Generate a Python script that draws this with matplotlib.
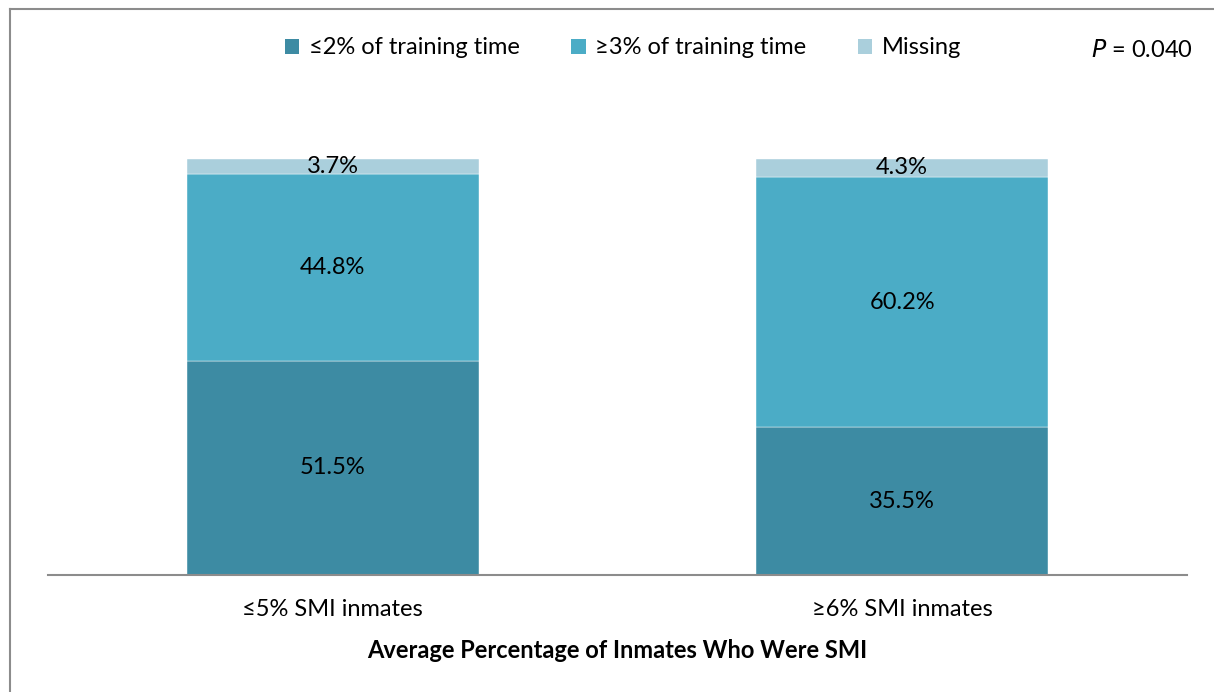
from matplotlib import pyplot as plt
from matplotlib.patches import Patch
from matplotlib.lines import Line2D
import numpy as np

# chart data
categories = ['≤5% SMI inmates', '≥6% SMI inmates']
series_names = ['≤2% of training time', '≥3% of training time', 'Missing']
low_training = [51.5, 35.5]
high_training = [44.8, 60.2]
missing = [3.7, 4.3]
p_text = '= 0.040'

colors = ['#3D8BA3', '#4BACC6', '#AACFDC']
font = ['Lato', 'DejaVu Sans']
plt.rcParams['font.family'] = font
fs = 17

fig = plt.figure(figsize=(12.14, 6.92), dpi=100)
W, H = 1214, 692
# plot area in pixels: left 48, right 1187, top 159, bottom 575
ax = fig.add_axes([48 / W, 1 - 575 / H, (1187 - 48) / W, (575 - 159) / H])

x = np.arange(len(categories))
bottom = np.zeros(len(categories))
for vals, name, col in zip([low_training, high_training, missing], series_names, colors):
    ax.bar(x, vals, width=0.512, bottom=bottom, color=col, label=name,
           edgecolor='white', linewidth=0.3)
    for xi, b, v in zip(x, bottom, vals):
        ax.text(xi, b + v / 2, '{:.1f}%'.format(v), ha='center', va='center',
                fontsize=fs, color='black')
    bottom = bottom + np.array(vals)

ax.set_xlim(-0.5, 1.5)
ax.set_ylim(0, 100)
for s in ['top', 'right', 'left']:
    ax.spines[s].set_visible(False)
ax.spines['bottom'].set_color('#8C8C8C')
ax.spines['bottom'].set_linewidth(1.5)
ax.set_yticks([])
ax.set_xticks(x)
ax.set_xticklabels(categories, fontsize=fs)
ax.tick_params(axis='x', length=0, pad=17)
ax.set_xlabel('Average Percentage of Inmates Who Were SMI', fontsize=fs,
              fontweight='bold', labelpad=14)

handles = [Patch(facecolor=c) for c in colors]
fig.legend(handles, series_names, loc='center', bbox_to_anchor=(623 / W, 1 - 48 / H),
           ncol=3, frameon=False, fontsize=fs, handlelength=0.6, handleheight=0.6,
           handletextpad=0.4, columnspacing=2.2)

fig.text(1193 / W, 1 - 50 / H, '$P$ ' + p_text, ha='right', va='center', fontsize=fs)

# outer chart frame (top and left edges visible)
fig.add_artist(Line2D([10 / W, 1], [1 - 9 / H, 1 - 9 / H], color='#8C8C8C', lw=1.5))
fig.add_artist(Line2D([10 / W, 10 / W], [0, 1 - 9 / H], color='#8C8C8C', lw=1.5))

fig.savefig('out.png', dpi=100)
